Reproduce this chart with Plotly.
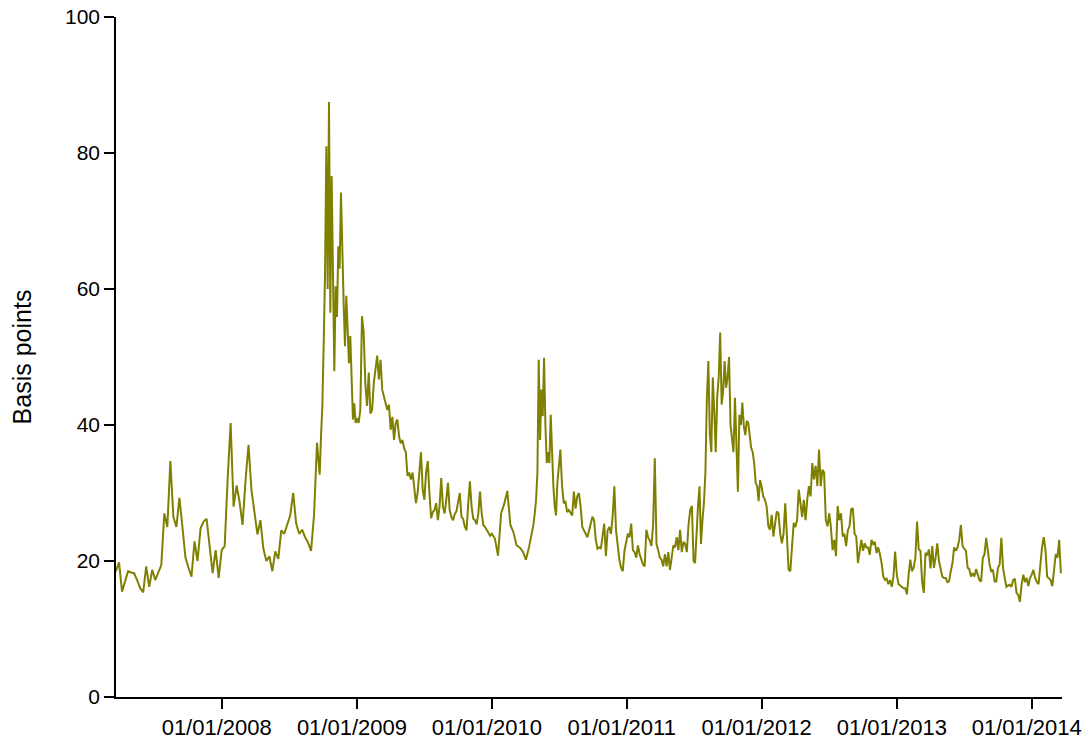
import pandas as pd
import plotly.graph_objects as go

# Spread series (basis points), split into date segments; each segment's
# values are evenly spaced between its start and end date.
v_2007 = [18.5, 19.8, 15.5, 17.0, 18.5, 18.3, 18.2, 17.2, 16.0, 15.4,
          19.2, 16.2, 18.7, 17.2, 18.2, 19.4, 27.0, 25.0, 34.7, 26.5,
          25.0, 29.3, 25.0, 20.5, 19.0, 17.7, 22.9, 20.0, 24.8, 25.8,
          26.2, 22.0, 18.2, 21.6, 17.5]
v_2008a = [21.6, 22.2, 32.0, 40.3, 28.0, 31.1, 28.7, 25.3, 31.8, 37.1,
           30.4, 27.0, 23.9, 26.0, 21.8, 20.0, 20.7, 18.5, 21.4, 20.3,
           24.5, 24.0, 25.5, 26.7, 30.0, 25.5, 24.0, 24.6, 23.5, 22.7,
           21.5, 26.8]
v_2008b = [37.4, 35.0, 32.7, 38.4, 42.8, 52.0, 62.0, 81.0, 60.0, 87.5,
           56.5, 76.6, 64.0, 47.9, 60.4, 55.9, 66.3, 63.0, 74.2, 64.8,
           58.0, 51.6, 59.0, 54.1, 49.1, 53.1, 45.2, 40.8, 43.2, 40.3]
v_2009 = [41.0, 40.3, 42.2, 56.0, 53.6, 46.0, 42.8, 47.7, 41.7, 42.2,
          46.2, 48.6, 50.2, 46.7, 49.6, 45.2, 44.2, 43.2, 42.2, 43.0,
          39.3, 41.2, 37.8, 40.3, 40.8, 38.3, 37.3, 37.8, 36.6, 36.0,
          32.5, 33.0, 32.0, 33.0, 31.0, 28.5, 30.0, 33.0, 36.0, 30.5,
          29.0, 33.0, 34.7, 30.0, 26.3, 27.2, 27.5, 28.5, 26.0, 28.0,
          32.2, 28.0, 27.0, 29.0, 31.5, 27.5, 26.5, 26.0, 26.9, 27.3,
          28.5, 30.0, 26.5, 26.2, 25.0, 24.5, 28.4, 31.7, 28.0, 26.2,
          26.0, 25.4, 27.0, 30.2, 27.0, 25.3, 25.0, 24.5, 24.2, 23.7]
v_2010a = [24.0, 23.3, 20.8, 27.0, 28.4, 30.3, 25.3, 24.2, 22.3, 22.0,
           21.4, 20.2, 22.0]
v_2010b = [24.2, 25.3, 27.0, 29.0, 33.0, 49.6, 37.8, 45.2, 41.3, 49.9,
           40.0, 34.4, 36.0, 34.4, 41.5, 35.0, 31.0, 28.0, 26.7, 31.5]
v_2010c = [33.9, 36.4, 31.0, 28.5, 28.7, 27.2, 27.5, 27.0, 26.7, 30.2,
           27.7, 29.5, 30.0, 28.0, 25.0, 24.5, 24.0, 23.5, 24.5, 25.5,
           26.5, 26.0, 23.1, 21.8, 22.0, 21.8, 24.0, 25.5, 20.7, 24.5,
           25.0, 24.0, 26.6, 31.0, 24.5, 22.0, 20.2, 19.0, 18.5, 21.5,
           22.8, 24.0, 23.5, 25.5, 21.6, 21.3, 20.5, 22.3, 21.0, 20.2,
           19.5, 19.2, 24.6, 23.5, 23.0, 22.2, 25.3, 35.1, 22.5, 21.6,
           20.5, 20.2, 19.2, 21.0, 19.2, 21.3, 18.7, 20.5, 22.3, 22.0,
           23.5, 21.6, 24.6, 21.3, 22.8, 22.5, 21.3, 25.3, 27.5, 28.1]
v_2011b = [20.0, 19.7, 25.3, 28.1, 31.0, 22.5, 26.0, 28.5, 33.0, 44.0,
           49.4, 38.6, 36.0, 47.0, 42.0, 36.0, 44.2, 47.0, 53.6, 43.0,
           45.0, 49.4, 45.5, 47.0, 50.0, 40.0, 38.0, 36.0, 44.0, 36.0,
           30.2, 41.5, 40.0, 43.3, 39.8, 38.5, 40.6, 40.3, 38.0, 36.6,
           36.0, 34.4, 31.5, 31.0, 28.8, 31.9]
v_2012 = [31.0, 29.5, 29.0, 28.0, 25.1, 24.6, 26.8, 23.6, 25.5, 27.3,
          27.0, 24.1, 22.6, 24.0, 28.5, 23.0, 18.7, 18.5, 21.9, 25.6,
          25.0, 26.0, 30.5, 28.5, 26.5, 29.0, 26.0, 29.0, 31.0, 29.5,
          34.4, 32.0, 34.0, 31.0, 36.4, 31.0, 33.4, 33.0, 26.0, 25.1,
          27.0, 25.0, 21.6, 23.1, 20.7, 28.1, 26.0, 27.0, 23.6, 24.0,
          22.2, 24.5, 25.1, 27.6, 27.8, 24.0, 23.6, 19.7, 21.2, 23.1,
          21.5, 22.6, 22.0, 22.0, 20.9, 23.1, 22.5, 22.8, 21.2, 22.0,
          21.0, 19.7, 17.7, 17.2, 17.4, 16.6, 17.2, 16.2, 17.7, 21.4]
v_2013 = [18.0, 16.6, 16.4, 16.2, 16.0, 16.0, 15.1, 18.0, 20.2, 18.5,
          19.0, 20.5, 25.8, 21.7, 21.5, 17.0, 15.3, 21.2, 20.8, 21.7,
          18.9, 22.2, 19.0, 20.5, 22.6, 20.0, 19.0, 17.7, 17.5, 17.5,
          16.9, 17.0, 18.5, 19.7, 22.0, 21.5, 22.0, 23.1, 25.3, 22.2,
          21.8, 21.5, 19.0, 18.8, 17.7, 18.2, 17.7, 18.8, 18.0, 17.2,
          17.0, 20.4, 21.0, 23.4, 21.5, 19.5, 18.5, 18.7, 17.0, 17.0,
          19.0, 19.5, 23.4, 19.0, 17.5, 16.2, 16.4, 16.5, 16.2, 17.2,
          17.4, 15.3, 15.0, 14.0, 16.5, 18.0, 16.9, 17.5, 16.3, 17.5]
v_2014 = [18.0, 18.7, 17.5, 16.9, 16.6, 19.5, 22.0, 23.5, 21.7, 17.7,
          17.5, 17.2, 16.3, 19.3, 21.0, 20.5, 23.1, 18.2]

segment_bounds = ["2007-03-21", "2008-01-01", "2008-09-15", "2009-01-01",
                  "2010-01-01", "2010-04-20", "2010-07-01", "2011-07-01",
                  "2012-01-01", "2013-01-01", "2014-01-01", "2014-03-21"]
segment_values = [v_2007, v_2008a, v_2008b, v_2009, v_2010a, v_2010b,
                  v_2010c, v_2011b, v_2012, v_2013, v_2014]

tick_dates = ["2008-01-01", "2009-01-01", "2010-01-01", "2011-01-01",
              "2012-01-01", "2013-01-01", "2014-01-01"]
tick_labels = ["01/01/2008", "01/01/2009", "01/01/2010", "01/01/2011",
               "01/01/2012", "01/01/2013", "01/01/2014"]
y_ticks = [0, 20, 40, 60, 80, 100]

dates, values = [], []
n_seg = len(segment_values)
for i, vals in enumerate(segment_values):
    start, end = segment_bounds[i], segment_bounds[i + 1]
    if i == n_seg - 1:
        d = pd.date_range(start, end, periods=len(vals))
    else:
        d = pd.date_range(start, end, periods=len(vals) + 1)[:-1]
    dates.extend(d)
    values.extend(vals)

fig = go.Figure(
    go.Scatter(
        x=dates, y=values, mode="lines",
        line=dict(color="#808000", width=2),
        hoverinfo="x+y",
    )
)

font_family = "Liberation Sans, Arial, sans-serif"
fig.update_layout(
    width=1086, height=742,
    margin=dict(l=116, r=24, t=17, b=45),
    paper_bgcolor="white", plot_bgcolor="white",
    showlegend=False,
    font=dict(family=font_family, color="black", size=22),
)
fig.update_xaxes(
    type="date", automargin=False,
    range=["2007-03-21", "2014-03-24"],
    tickmode="array", tickvals=tick_dates, ticktext=tick_labels,
    ticks="outside", ticklen=10, tickwidth=1.5, tickcolor="black",
    ticklabelshift=-5, ticklabeloverflow="allow",
    showline=True, linecolor="black", linewidth=1.5,
    showgrid=False, zeroline=False,
    tickfont=dict(size=22, family=font_family),
)
fig.update_yaxes(
    automargin=False,
    range=[0, 100],
    tickmode="array", tickvals=y_ticks,
    ticks="outside", ticklen=10, tickwidth=1.5, tickcolor="black",
    showline=True, linecolor="black", linewidth=1.5,
    showgrid=False, zeroline=False,
    tickfont=dict(size=21, family=font_family),
    title=dict(text="Basis points", font=dict(size=25, family=font_family),
               standoff=26),
)

fig.write_html("out.html")
